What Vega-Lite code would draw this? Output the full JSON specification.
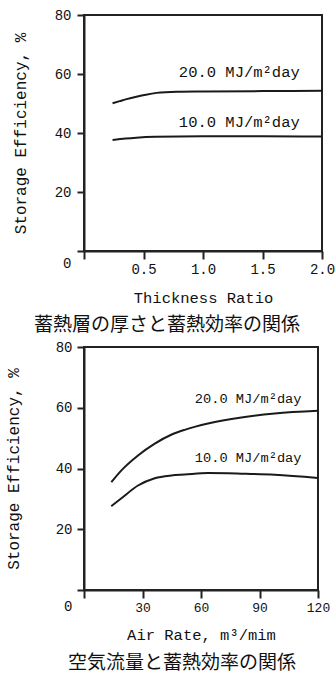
{
  "$schema": "https://vega.github.io/schema/vega-lite/v6.json",
  "background": "white",
  "padding": {"left": 4, "top": 7, "right": 0, "bottom": 0},
  "bounds": "flush",
  "spacing": 96,
  "datasets": {
    "p1": [
      {"s": "20.0", "x": 0.24, "y": 50.1},
      {"s": "20.0", "x": 0.3, "y": 50.8},
      {"s": "20.0", "x": 0.35, "y": 51.4},
      {"s": "20.0", "x": 0.44, "y": 52.3},
      {"s": "20.0", "x": 0.52, "y": 53.0},
      {"s": "20.0", "x": 0.61, "y": 53.6},
      {"s": "20.0", "x": 0.78, "y": 54.0},
      {"s": "20.0", "x": 1.0, "y": 54.1},
      {"s": "20.0", "x": 1.5, "y": 54.2},
      {"s": "20.0", "x": 2.0, "y": 54.3},
      {"s": "10.0", "x": 0.24, "y": 37.6},
      {"s": "10.0", "x": 0.35, "y": 38.1},
      {"s": "10.0", "x": 0.44, "y": 38.4},
      {"s": "10.0", "x": 0.6, "y": 38.7},
      {"s": "10.0", "x": 1.0, "y": 38.9},
      {"s": "10.0", "x": 1.5, "y": 38.9},
      {"s": "10.0", "x": 2.0, "y": 38.8}
    ],
    "l1": [
      {"x": 0.797, "y": 60.8, "t": "20.0 MJ/m²day"},
      {"x": 0.797, "y": 43.8, "t": "10.0 MJ/m²day"}
    ],
    "p2": [
      {"s": "20.0", "x": 14, "y": 35.5},
      {"s": "20.0", "x": 19.2, "y": 39.4},
      {"s": "20.0", "x": 27.7, "y": 44.3},
      {"s": "20.0", "x": 36.3, "y": 48.2},
      {"s": "20.0", "x": 45, "y": 51.2},
      {"s": "20.0", "x": 52, "y": 52.8},
      {"s": "20.0", "x": 63.6, "y": 54.8},
      {"s": "20.0", "x": 80.7, "y": 56.8},
      {"s": "20.0", "x": 97.8, "y": 58.1},
      {"s": "20.0", "x": 120, "y": 59.0},
      {"s": "10.0", "x": 14, "y": 27.6},
      {"s": "10.0", "x": 19.2, "y": 30.2},
      {"s": "10.0", "x": 27.7, "y": 34.4},
      {"s": "10.0", "x": 36.3, "y": 36.8},
      {"s": "10.0", "x": 44.8, "y": 37.7},
      {"s": "10.0", "x": 51.6, "y": 38.0},
      {"s": "10.0", "x": 63.6, "y": 38.5},
      {"s": "10.0", "x": 80.7, "y": 38.3},
      {"s": "10.0", "x": 97.8, "y": 37.95},
      {"s": "10.0", "x": 120, "y": 36.9}
    ],
    "l2": [
      {"x": 56.8, "y": 62.8, "t": "20.0 MJ/m²day"},
      {"x": 56.8, "y": 43.6, "t": "10.0 MJ/m²day"}
    ]
  },
  "vconcat": [
    {
      "width": 238,
      "height": 236,
      "title": {"text": "蓄熱層の厚さと蓄熱効率の関係", "orient": "bottom", "anchor": "middle", "dx": -36, "offset": 10, "font": "Noto Sans CJK JP", "fontSize": 19, "fontWeight": "normal", "color": "#111"},
      "layer": [
        {
          "data": {"name": "p1"},
          "mark": {"type": "line", "interpolate": "monotone", "stroke": "#1a1a1a", "strokeWidth": 2},
          "encoding": {
            "x": {"field": "x", "type": "quantitative", "scale": {"domain": [0, 2], "nice": false, "zero": false},
              "axis": {"values": [0, 0.5, 1, 1.5, 2], "format": ".1f", "labelExpr": "datum.value == 0 ? '' : datum.label", "title": "Thickness Ratio", "tickSize": 8, "labelPadding": 3, "titlePadding": 14, "labelFontSize": 14, "titleFontSize": 15.5}},
            "y": {"field": "y", "type": "quantitative", "scale": {"domain": [0, 80], "nice": false},
              "axis": {"values": [0, 10, 20, 30, 40, 50, 60, 70, 80], "labelExpr": "datum.value % 20 == 0 ? datum.label : ''", "labelOffset": {"condition": {"test": "datum.value == 0", "value": 12}, "value": 0}, "title": "Storage Efficiency, %", "tickSize": 7, "labelPadding": 6, "titlePadding": 26, "labelFontSize": 14, "titleFontSize": 16}},
            "detail": {"field": "s"}
          }
        },
        {
          "data": {"name": "l1"},
          "mark": {"type": "text", "align": "left", "baseline": "middle", "font": "Liberation Mono", "fontSize": 15.5, "color": "#111"},
          "encoding": {
            "x": {"field": "x", "type": "quantitative"},
            "y": {"field": "y", "type": "quantitative"},
            "text": {"field": "t"}
          }
        }
      ]
    },
    {
      "width": 234,
      "height": 243,
      "title": {"text": "空気流量と蓄熱効率の関係", "orient": "bottom", "anchor": "middle", "dx": -19, "offset": 11, "font": "Noto Sans CJK JP", "fontSize": 19, "fontWeight": "normal", "color": "#111"},
      "layer": [
        {
          "data": {"name": "p2"},
          "mark": {"type": "line", "interpolate": "monotone", "stroke": "#1a1a1a", "strokeWidth": 2},
          "encoding": {
            "x": {"field": "x", "type": "quantitative", "scale": {"domain": [0, 120], "nice": false, "zero": false},
              "axis": {"values": [0, 30, 60, 90, 120], "labelExpr": "datum.value == 0 ? '' : datum.label", "title": "Air Rate, m³/mim", "tickSize": 8, "labelPadding": 3, "titlePadding": 13, "labelFontSize": 13, "titleFontSize": 15.5}},
            "y": {"field": "y", "type": "quantitative", "scale": {"domain": [0, 80], "nice": false},
              "axis": {"values": [0, 10, 20, 30, 40, 50, 60, 70, 80], "labelExpr": "datum.value % 20 == 0 ? datum.label : ''", "labelOffset": {"condition": {"test": "datum.value == 0", "value": 16}, "value": 0}, "title": "Storage Efficiency, %", "tickSize": 7, "labelPadding": 5, "titlePadding": 34, "labelFontSize": 14, "titleFontSize": 16}},
            "detail": {"field": "s"}
          }
        },
        {
          "data": {"name": "l2"},
          "mark": {"type": "text", "align": "left", "baseline": "middle", "font": "Liberation Mono", "fontSize": 13.7, "color": "#111"},
          "encoding": {
            "x": {"field": "x", "type": "quantitative"},
            "y": {"field": "y", "type": "quantitative"},
            "text": {"field": "t"}
          }
        }
      ]
    }
  ],
  "config": {
    "view": {"stroke": "#222", "strokeWidth": 2},
    "axis": {"grid": false, "domainColor": "#222", "domainWidth": 2, "tickColor": "#222", "tickWidth": 2, "labelColor": "#111", "titleColor": "#111", "labelFont": "Liberation Mono", "titleFont": "Liberation Mono", "titleFontWeight": "normal", "labelOverlap": false, "labelFlush": false, "labelBound": false}
  }
}
